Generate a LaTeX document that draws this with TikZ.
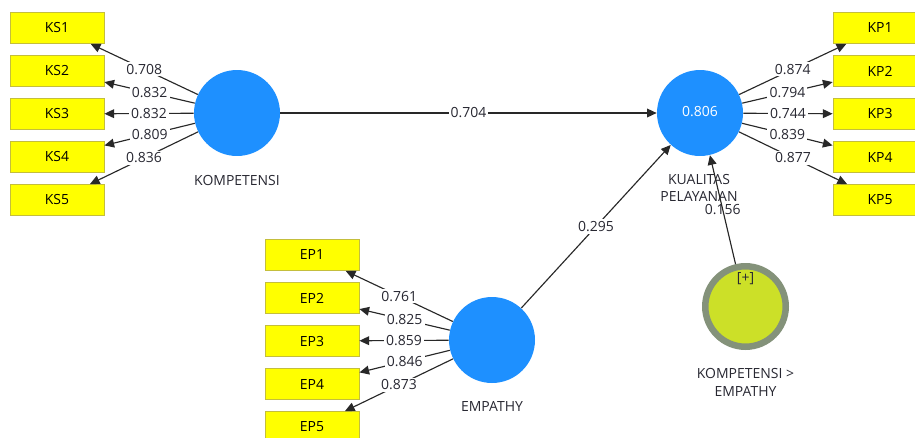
\documentclass[tikz,border=0pt]{standalone}
\usepackage{fontspec}
\setmainfont{Open Sans}
\usetikzlibrary{arrows.meta}

\begin{document}
\begin{tikzpicture}[x=0.02cm,y=-0.02cm,
    indicator/.style={draw=r196g190b60, fill=r255g255b0, line width=0.5pt,
        minimum width=1.88cm, minimum height=0.62cm, inner sep=0pt, text=black},
    latent/.style={circle, fill=r30g144b255, minimum size=1.72cm, inner sep=0pt},
    moderator/.style={circle, draw=r132g146b122, fill=r204g224b40, line width=0.13cm,
        minimum size=1.61cm, inner sep=0pt},
    loading/.style={draw=r40g40b40, line width=0.65pt, -{Triangle[length=5.5pt,width=5pt]}},
    weight/.style={fill=white, text=r40g40b50, inner sep=1.2pt},
    caption/.style={text=r40g40b50, align=center}]
                        \clip (0,0) rectangle (915,437);
                        {\fontsize{7.95}{9.2}\selectfont

                        % Changing colors
                        \definecolor{r255g255b0}{rgb}{1.000000,1.000000,0.000000}%
                        \definecolor{r196g190b60}{rgb}{0.768627,0.745098,0.235294}%
                        \definecolor{r30g144b255}{rgb}{0.117647,0.564706,1.000000}%
                        \definecolor{r132g146b122}{rgb}{0.517647,0.572549,0.478431}%
                        \definecolor{r204g224b40}{rgb}{0.800000,0.878431,0.156863}%
                        \definecolor{r40g40b40}{rgb}{0.156863,0.156863,0.156863}%
                        \definecolor{r40g40b50}{rgb}{0.156863,0.156863,0.196078}%

                        % Indicators of KOMPETENSI
                        \node [indicator] (ks1) at (57,28) {KS1};%
                        \node [indicator] (ks2) at (57,71) {KS2};%
                        \node [indicator] (ks3) at (57,114) {KS3};%
                        \node [indicator] (ks4) at (57,157) {KS4};%
                        \node [indicator] (ks5) at (57,200) {KS5};%

                        % Indicators of KUALITAS PELAYANAN
                        \node [indicator] (kp1) at (880,28) {KP1};%
                        \node [indicator] (kp2) at (880,71) {KP2};%
                        \node [indicator] (kp3) at (880,114) {KP3};%
                        \node [indicator] (kp4) at (880,157) {KP4};%
                        \node [indicator] (kp5) at (880,200) {KP5};%

                        % Indicators of EMPATHY
                        \node [indicator] (ep1) at (312,255) {EP1};%
                        \node [indicator] (ep2) at (312,298) {EP2};%
                        \node [indicator] (ep3) at (312,341) {EP3};%
                        \node [indicator] (ep4) at (312,384) {EP4};%
                        \node [indicator] (ep5) at (312,427) {EP5};%

                        % Latent variables
                        \node [latent] (ks) at (237,113) {};%
                        \node [caption] (ksname) at (237,180) {KOMPETENSI};%
                        \node [latent, text=white] (kp) at (700,113) {\raisebox{2pt}{0.806}};%
                        \node [caption] (kpname) at (699,188) {KUALITAS\\PELAYANAN};%
                        \node [latent] (ep) at (492,340) {};%
                        \node [caption] (epname) at (492,406) {EMPATHY};%

                        % Moderating effect
                        \node [moderator] (mod) at (745.5,306.5) {};%
                        \node [text=r40g40b50] (modsign) at (745.5,279) {[+]};%
                        \node [caption] (modname) at (745.5,382) {KOMPETENSI >\\[1pt]EMPATHY};%

                        % Drawing loadings of KOMPETENSI
                        \draw [loading] (ks) -- node [weight] {0.708} (ks1);%
                        \draw [loading] (ks) -- node [weight] {0.832} (ks2);%
                        \draw [loading] (ks) -- node [weight] {0.832} (ks3);%
                        \draw [loading] (ks) -- node [weight] {0.809} (ks4);%
                        \draw [loading] (ks) -- node [weight] {0.836} (ks5);%

                        % Drawing loadings of KUALITAS PELAYANAN
                        \draw [loading] (kp) -- node [weight] {0.874} (kp1);%
                        \draw [loading] (kp) -- node [weight] {0.794} (kp2);%
                        \draw [loading] (kp) -- node [weight] {0.744} (kp3);%
                        \draw [loading] (kp) -- node [weight] {0.839} (kp4);%
                        \draw [loading] (kp) -- node [weight] {0.877} (kp5);%

                        % Drawing loadings of EMPATHY
                        \draw [loading] (ep) -- node [weight] {0.761} (ep1);%
                        \draw [loading] (ep) -- node [weight] {0.825} (ep2);%
                        \draw [loading] (ep) -- node [weight] {0.859} (ep3);%
                        \draw [loading] (ep) -- node [weight] {0.846} (ep4);%
                        \draw [loading] (ep) -- node [weight] {0.873} (ep5);%

                        % Drawing paths
                        \draw [loading] (ks) -- node [weight] {0.704} (kp);%
                        \draw [loading] (ep) -- node [weight] {0.295} (kp);%
                        \draw [loading] (mod) -- node [weight, fill=none] {0.156} (kp);%
                        }
                    \end{tikzpicture}
\end{document}
